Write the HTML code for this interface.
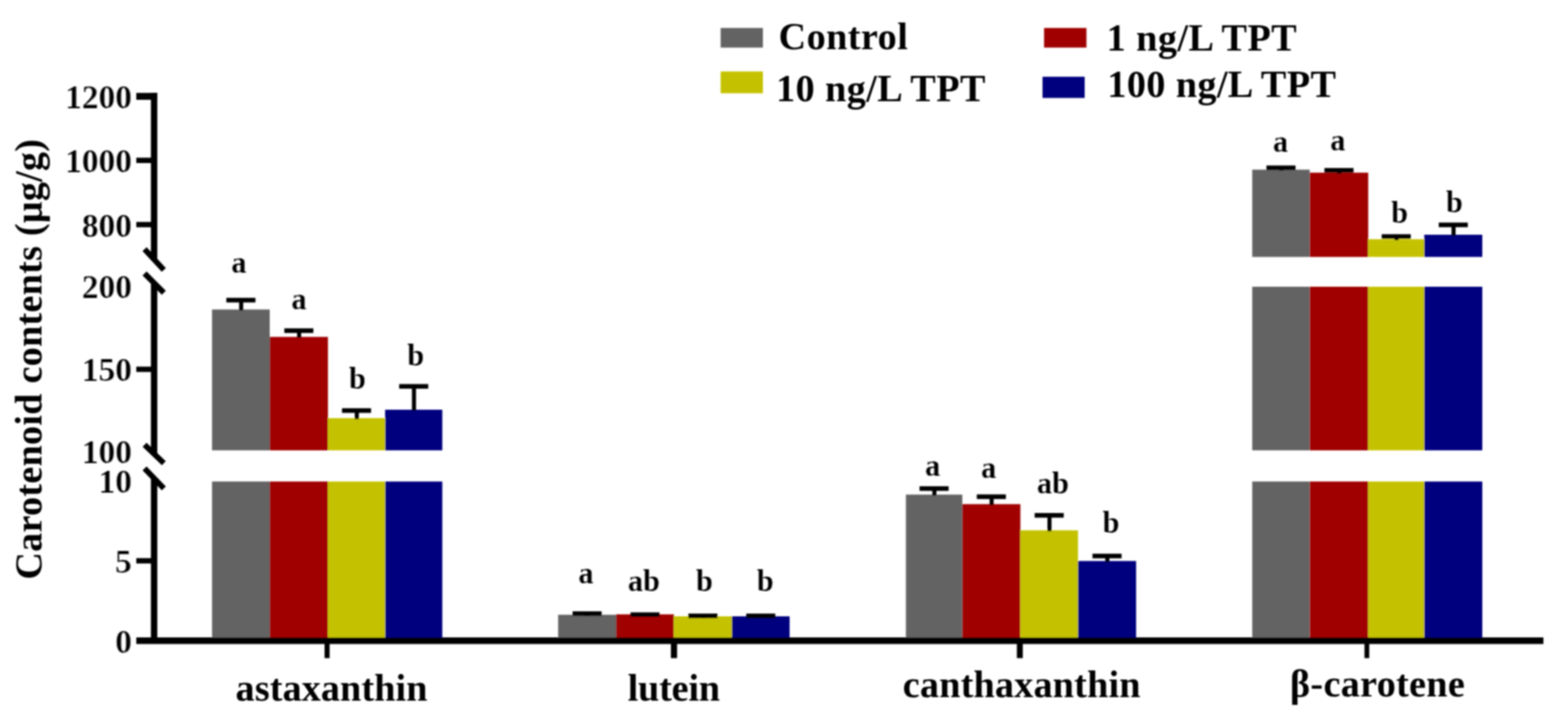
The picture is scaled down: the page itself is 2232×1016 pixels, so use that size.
<!DOCTYPE html>
<html lang="en">
<head>
<meta charset="utf-8">
<title>Carotenoid contents</title>
<style>
html,body{margin:0;padding:0;background:#fff;}
body{width:2232px;height:1016px;overflow:hidden;font-family:"Liberation Serif",serif;}
svg{display:block;}
text{font-family:"Liberation Serif",serif;font-weight:bold;fill:#000;}
text.r{font-weight:normal;}
text.t{stroke:#fff;stroke-width:0.15px;}
text.b{stroke:#fff;stroke-width:0.08px;}
</style>
</head>
<body>
<svg width="2232" height="1016" viewBox="0 0 2232 1016">
<defs>
<filter id="bs" x="-5%" y="-5%" width="110%" height="110%"><feGaussianBlur stdDeviation="0.8"/></filter>
<filter id="bt" x="-5%" y="-5%" width="110%" height="110%"><feGaussianBlur stdDeviation="0.8"/></filter>
</defs>
<rect x="0" y="0" width="2232" height="1016" fill="#fff"/>
<g filter="url(#bs)">
<rect x="301.80" y="440.40" width="82.20" height="200.40" fill="#636363"/>
<rect x="301.80" y="685.20" width="82.20" height="226.30" fill="#636363"/>
<rect x="384.00" y="479.40" width="82.80" height="161.40" fill="#a00000"/>
<rect x="384.00" y="685.20" width="82.80" height="226.30" fill="#a00000"/>
<rect x="466.80" y="595.00" width="81.40" height="45.80" fill="#c4c200"/>
<rect x="466.80" y="685.20" width="81.40" height="226.30" fill="#c4c200"/>
<rect x="548.20" y="583.00" width="81.40" height="57.80" fill="#00007f"/>
<rect x="548.20" y="685.20" width="81.40" height="226.30" fill="#00007f"/>
<rect x="340.40" y="427.10" width="5.80" height="14.80" fill="#000"/>
<rect x="322.20" y="423.80" width="41.40" height="6.60" fill="#000"/>
<rect x="422.90" y="470.50" width="5.80" height="10.40" fill="#000"/>
<rect x="404.70" y="467.20" width="41.40" height="6.60" fill="#000"/>
<rect x="505.00" y="584.20" width="5.80" height="12.30" fill="#000"/>
<rect x="486.80" y="580.90" width="41.40" height="6.60" fill="#000"/>
<rect x="586.40" y="549.80" width="5.80" height="34.70" fill="#000"/>
<rect x="568.20" y="546.50" width="41.40" height="6.60" fill="#000"/>
<rect x="794.50" y="874.80" width="82.50" height="36.70" fill="#636363"/>
<rect x="877.00" y="874.20" width="82.30" height="37.30" fill="#a00000"/>
<rect x="959.30" y="877.00" width="82.50" height="34.50" fill="#c4c200"/>
<rect x="1041.80" y="877.00" width="82.20" height="34.50" fill="#00007f"/>
<rect x="833.25" y="873.20" width="5.80" height="3.30" fill="#000"/>
<rect x="815.05" y="869.90" width="41.40" height="6.60" fill="#000"/>
<rect x="915.65" y="874.70" width="5.80" height="3.30" fill="#000"/>
<rect x="897.45" y="871.40" width="41.40" height="6.60" fill="#000"/>
<rect x="998.05" y="876.40" width="5.80" height="3.30" fill="#000"/>
<rect x="979.85" y="873.10" width="41.40" height="6.60" fill="#000"/>
<rect x="1080.40" y="876.40" width="5.80" height="3.30" fill="#000"/>
<rect x="1062.20" y="873.10" width="41.40" height="6.60" fill="#000"/>
<rect x="1289.50" y="703.80" width="80.30" height="207.70" fill="#636363"/>
<rect x="1369.80" y="717.40" width="82.70" height="194.10" fill="#a00000"/>
<rect x="1452.50" y="754.60" width="82.00" height="156.90" fill="#c4c200"/>
<rect x="1534.50" y="798.30" width="82.70" height="113.20" fill="#00007f"/>
<rect x="1327.15" y="695.20" width="5.80" height="10.10" fill="#000"/>
<rect x="1308.95" y="691.90" width="41.40" height="6.60" fill="#000"/>
<rect x="1408.65" y="706.80" width="5.80" height="12.10" fill="#000"/>
<rect x="1390.45" y="703.50" width="41.40" height="6.60" fill="#000"/>
<rect x="1491.00" y="733.30" width="5.80" height="22.80" fill="#000"/>
<rect x="1472.80" y="730.00" width="41.40" height="6.60" fill="#000"/>
<rect x="1573.35" y="791.20" width="5.80" height="8.60" fill="#000"/>
<rect x="1555.15" y="787.90" width="41.40" height="6.60" fill="#000"/>
<rect x="1782.50" y="241.40" width="81.90" height="124.20" fill="#636363"/>
<rect x="1782.50" y="408.00" width="81.90" height="232.80" fill="#636363"/>
<rect x="1782.50" y="685.20" width="81.90" height="226.30" fill="#636363"/>
<rect x="1864.40" y="245.70" width="83.20" height="119.90" fill="#a00000"/>
<rect x="1864.40" y="408.00" width="83.20" height="232.80" fill="#a00000"/>
<rect x="1864.40" y="685.20" width="83.20" height="226.30" fill="#a00000"/>
<rect x="1947.60" y="340.40" width="79.80" height="25.20" fill="#c4c200"/>
<rect x="1947.60" y="408.00" width="79.80" height="232.80" fill="#c4c200"/>
<rect x="1947.60" y="685.20" width="79.80" height="226.30" fill="#c4c200"/>
<rect x="2027.40" y="334.00" width="82.60" height="31.60" fill="#00007f"/>
<rect x="2027.40" y="408.00" width="82.60" height="232.80" fill="#00007f"/>
<rect x="2027.40" y="685.20" width="82.60" height="226.30" fill="#00007f"/>
<rect x="1820.95" y="238.80" width="5.80" height="4.10" fill="#000"/>
<rect x="1802.75" y="235.50" width="41.40" height="6.60" fill="#000"/>
<rect x="1903.50" y="242.40" width="5.80" height="4.80" fill="#000"/>
<rect x="1885.30" y="239.10" width="41.40" height="6.60" fill="#000"/>
<rect x="1985.00" y="336.60" width="5.80" height="5.30" fill="#000"/>
<rect x="1966.80" y="333.30" width="41.40" height="6.60" fill="#000"/>
<rect x="2066.20" y="320.00" width="5.80" height="15.50" fill="#000"/>
<rect x="2048.00" y="316.70" width="41.40" height="6.60" fill="#000"/>
<rect x="214.80" y="132.20" width="9.10" height="237.30" fill="#000"/>
<rect x="214.80" y="402.00" width="9.10" height="245.30" fill="#000"/>
<rect x="214.80" y="680.00" width="9.10" height="236.00" fill="#000"/>
<rect x="194.00" y="907.00" width="2003.00" height="9.40" fill="#000"/>
<rect x="194.00" y="132.20" width="29.90" height="9.80" fill="#000"/>
<rect x="194.00" y="224.40" width="21.80" height="7.60" fill="#000"/>
<rect x="194.00" y="315.80" width="21.80" height="7.60" fill="#000"/>
<rect x="194.00" y="521.70" width="21.80" height="7.60" fill="#000"/>
<rect x="194.00" y="794.20" width="21.80" height="7.60" fill="#000"/>
<rect x="462.00" y="912.00" width="7.20" height="24.50" fill="#000"/>
<rect x="955.00" y="912.00" width="8.80" height="24.50" fill="#000"/>
<rect x="1447.50" y="912.00" width="8.40" height="24.50" fill="#000"/>
<rect x="1942.30" y="912.00" width="6.80" height="24.50" fill="#000"/>
<line x1="205.8" y1="354.5" x2="233.2" y2="384.1" stroke="#000" stroke-width="8"/>
<line x1="205.8" y1="389.1" x2="233.2" y2="416.6" stroke="#000" stroke-width="8"/>
<line x1="205.8" y1="632.8" x2="233.2" y2="659.2" stroke="#000" stroke-width="8"/>
<line x1="205.8" y1="666.4" x2="233.2" y2="694.9" stroke="#000" stroke-width="8"/>
<rect x="1025.80" y="39.80" width="60.20" height="27.90" fill="#636363"/>
<rect x="1025.80" y="101.70" width="60.20" height="31.00" fill="#c4c200"/>
<rect x="1486.20" y="39.80" width="60.30" height="27.90" fill="#a00000"/>
<rect x="1484.00" y="109.20" width="60.00" height="30.20" fill="#00007f"/>
</g>
<g filter="url(#bt)">
<text x="329.15" y="387.60" font-size="43.3" textLength="21.65" lengthAdjust="spacingAndGlyphs" class="b">a</text>
<text x="414.65" y="440.30" font-size="43.3" textLength="21.65" lengthAdjust="spacingAndGlyphs" class="b">a</text>
<text x="496.83" y="552.90" font-size="43.3" textLength="24.08" lengthAdjust="spacingAndGlyphs" class="b">b</text>
<text x="579.73" y="520.40" font-size="43.3" textLength="24.08" lengthAdjust="spacingAndGlyphs" class="b">b</text>
<text x="823.15" y="830.10" font-size="43.3" textLength="21.65" lengthAdjust="spacingAndGlyphs" class="b">a</text>
<text x="893.68" y="840.90" font-size="43.3" textLength="45.73" lengthAdjust="spacingAndGlyphs" class="b">ab</text>
<text x="990.83" y="840.90" font-size="43.3" textLength="24.08" lengthAdjust="spacingAndGlyphs" class="b">b</text>
<text x="1077.23" y="840.90" font-size="43.3" textLength="24.08" lengthAdjust="spacingAndGlyphs" class="b">b</text>
<text x="1316.75" y="677.20" font-size="43.3" textLength="21.65" lengthAdjust="spacingAndGlyphs" class="b">a</text>
<text x="1396.45" y="679.60" font-size="43.3" textLength="21.65" lengthAdjust="spacingAndGlyphs" class="b">a</text>
<text x="1475.88" y="701.70" font-size="43.3" textLength="45.73" lengthAdjust="spacingAndGlyphs" class="b">ab</text>
<text x="1569.43" y="758.40" font-size="43.3" textLength="24.08" lengthAdjust="spacingAndGlyphs" class="b">b</text>
<text x="1812.05" y="215.90" font-size="43.3" textLength="21.65" lengthAdjust="spacingAndGlyphs" class="b">a</text>
<text x="1893.45" y="213.90" font-size="43.3" textLength="21.65" lengthAdjust="spacingAndGlyphs" class="b">a</text>
<text x="1980.13" y="316.50" font-size="43.3" textLength="24.08" lengthAdjust="spacingAndGlyphs" class="b">b</text>
<text x="2058.13" y="302.10" font-size="43.3" textLength="24.08" lengthAdjust="spacingAndGlyphs" class="b">b</text>
<text x="92.68" y="153.50" font-size="46" textLength="95.22" lengthAdjust="spacingAndGlyphs" class="t">1200</text>
<text x="92.68" y="245.10" font-size="46" textLength="95.22" lengthAdjust="spacingAndGlyphs" class="t">1000</text>
<text x="116.49" y="336.50" font-size="46" textLength="71.41" lengthAdjust="spacingAndGlyphs" class="t">800</text>
<text x="116.49" y="424.00" font-size="46" textLength="71.41" lengthAdjust="spacingAndGlyphs" class="t">200</text>
<text x="116.49" y="541.50" font-size="46" textLength="71.41" lengthAdjust="spacingAndGlyphs" class="t">150</text>
<text x="116.49" y="658.80" font-size="46" textLength="71.41" lengthAdjust="spacingAndGlyphs" class="t">100</text>
<text x="140.29" y="700.50" font-size="46" textLength="47.61" lengthAdjust="spacingAndGlyphs" class="t">10</text>
<text x="163.86" y="814.50" font-size="46" textLength="23.80" lengthAdjust="spacingAndGlyphs" class="t">5</text>
<text x="164.10" y="928.50" font-size="46" textLength="23.80" lengthAdjust="spacingAndGlyphs" class="t">0</text>
<text x="335.37" y="996.60" font-size="54.3" letter-spacing="0.154">astaxanthin</text>
<text x="893.51" y="996.80" font-size="54.3" letter-spacing="-0.253">lutein</text>
<text x="1285.10" y="991.80" font-size="54.3" letter-spacing="0.288">canthaxanthin</text>
<text x="1836.31" y="991.00" font-size="54.3" letter-spacing="0.461">β-carotene</text>
<text x="1108.29" y="70.30" font-size="54.3" letter-spacing="0.666">Control</text>
<text x="1104.66" y="143.70" font-size="54.3" letter-spacing="0.637">10 ng/L TPT</text>
<text x="1575.26" y="72.40" font-size="54.3" letter-spacing="0.658">1 ng/L TPT</text>
<text x="1576.26" y="137.70" font-size="54.3" letter-spacing="0.593">100 ng/L TPT</text>
<text transform="rotate(-90)" x="-824.72" y="59.2" font-size="54.3" letter-spacing="0.358">Carotenoid contents (μg/g)</text>
</g>
</svg>
</body>
</html>
